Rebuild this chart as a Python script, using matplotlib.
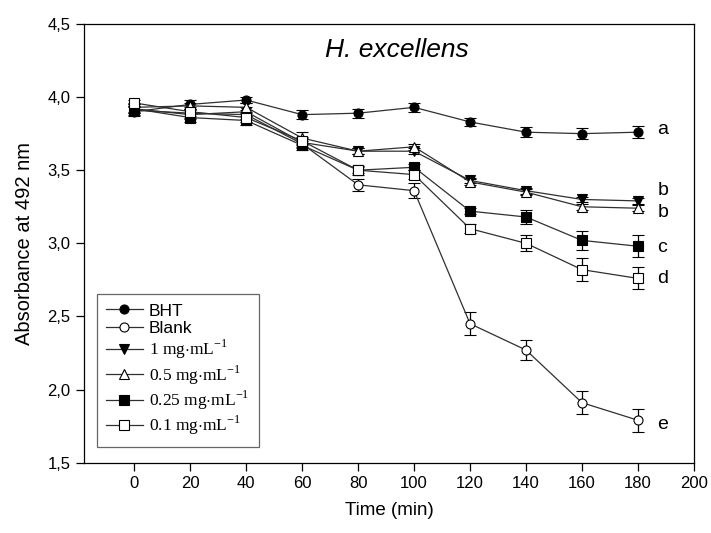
import numpy as np
import matplotlib
matplotlib.use("Agg")
import matplotlib.pyplot as plt
from matplotlib.lines import Line2D
from matplotlib.ticker import FuncFormatter

# Time points (min)
time = [0, 20, 40, 60, 80, 100, 120, 140, 160, 180]

# Absorbance at 492 nm
bht = [3.90, 3.95, 3.98, 3.88, 3.89, 3.93, 3.83, 3.76, 3.75, 3.76]
blank = [3.91, 3.89, 3.88, 3.68, 3.40, 3.36, 2.45, 2.27, 1.91, 1.79]
c1 = [3.92, 3.88, 3.90, 3.69, 3.63, 3.63, 3.43, 3.36, 3.30, 3.29]
c05 = [3.93, 3.94, 3.93, 3.72, 3.63, 3.66, 3.42, 3.35, 3.25, 3.24]
c025 = [3.92, 3.86, 3.84, 3.67, 3.50, 3.52, 3.22, 3.18, 3.02, 2.98]
c01 = [3.96, 3.90, 3.86, 3.70, 3.50, 3.47, 3.10, 3.00, 2.82, 2.76]

# Standard errors
bht_err = [0.03, 0.03, 0.02, 0.03, 0.03, 0.03, 0.03, 0.035, 0.04, 0.04]
blank_err = [0.03, 0.03, 0.03, 0.03, 0.04, 0.05, 0.08, 0.07, 0.08, 0.08]
c1_err = [0.03, 0.03, 0.03, 0.03, 0.02, 0.02, 0.02, 0.02, 0.02, 0.02]
c05_err = [0.03, 0.02, 0.03, 0.04, 0.02, 0.02, 0.02, 0.02, 0.02, 0.02]
c025_err = [0.03, 0.03, 0.03, 0.03, 0.02, 0.02, 0.02, 0.045, 0.065, 0.075]
c01_err = [0.02, 0.03, 0.03, 0.03, 0.03, 0.03, 0.03, 0.055, 0.08, 0.075]

labels = ["BHT", "Blank",
          r"1 mg$\cdot$mL$^{\mathregular{-1}}$",
          r"0.5 mg$\cdot$mL$^{\mathregular{-1}}$",
          r"0.25 mg$\cdot$mL$^{\mathregular{-1}}$",
          r"0.1 mg$\cdot$mL$^{\mathregular{-1}}$"]

# Significance letters next to the last points
letters = ["a", "b", "b", "c", "d", "e"]
letter_y = [3.78, 3.36, 3.21, 2.97, 2.76, 1.76]

plt.rcParams["font.family"] = ["Liberation Sans", "DejaVu Sans"]
plt.rcParams["mathtext.fontset"] = "custom"
plt.rcParams["mathtext.rm"] = "Liberation Serif"

fig = plt.figure(figsize=(7.11, 5.33), dpi=100)
ax = fig.add_axes([0.118, 0.132, 0.858, 0.823])

series = [
    (bht, bht_err, "o", "black"),
    (blank, blank_err, "o", "white"),
    (c1, c1_err, "v", "black"),
    (c05, c05_err, "^", "white"),
    (c025, c025_err, "s", "black"),
    (c01, c01_err, "s", "white"),
]

handles = []
for (y, err, mk, fc), lab in zip(series, labels):
    style = dict(marker=mk, markersize=6.5, markerfacecolor=fc,
                 markeredgecolor="black", markeredgewidth=0.8,
                 color="#303030", linewidth=0.9)
    ax.errorbar(time, y, yerr=err, ecolor="black", elinewidth=0.9,
                capsize=4, capthick=0.9, **style)
    handles.append(Line2D([], [], label=lab, **style))

for letter, yl in zip(letters, letter_y):
    ax.text(187, yl, letter, fontsize=14, ha="left", va="center")

ax.text(94, 4.32, "H. excellens", fontsize=19, style="italic",
        ha="center", va="center")

ax.set_xlim(-18, 200)
ax.set_ylim(1.5, 4.5)
ax.set_xticks(np.arange(0, 201, 20))
ax.set_yticks(np.arange(1.5, 4.51, 0.5))
ax.yaxis.set_major_formatter(FuncFormatter(lambda v, p: f"{v:.1f}".replace(".", ",")))
ax.tick_params(direction="out", length=6, width=0.9, labelsize=12)
for s in ax.spines.values():
    s.set_linewidth(0.9)

ax.set_xlabel("Time (min)", fontsize=13.5, labelpad=8)
ax.set_ylabel("Absorbance at 492 nm", fontsize=14.5, labelpad=10)

leg = ax.legend(handles=handles, loc="lower left",
                bbox_to_anchor=(0.021, 0.036), borderaxespad=0,
                fontsize=12.5, frameon=True, fancybox=False,
                edgecolor="#404040", handlelength=2.1,
                labelspacing=0.12, borderpad=0.55, handletextpad=0.35)
leg.get_frame().set_linewidth(0.9)
for i, t in enumerate(leg.get_texts()):
    if i >= 2:
        t.set_family(["Liberation Serif", "DejaVu Serif"])
        t.set_fontsize(12.5)

fig.savefig("out.png", dpi=100)
